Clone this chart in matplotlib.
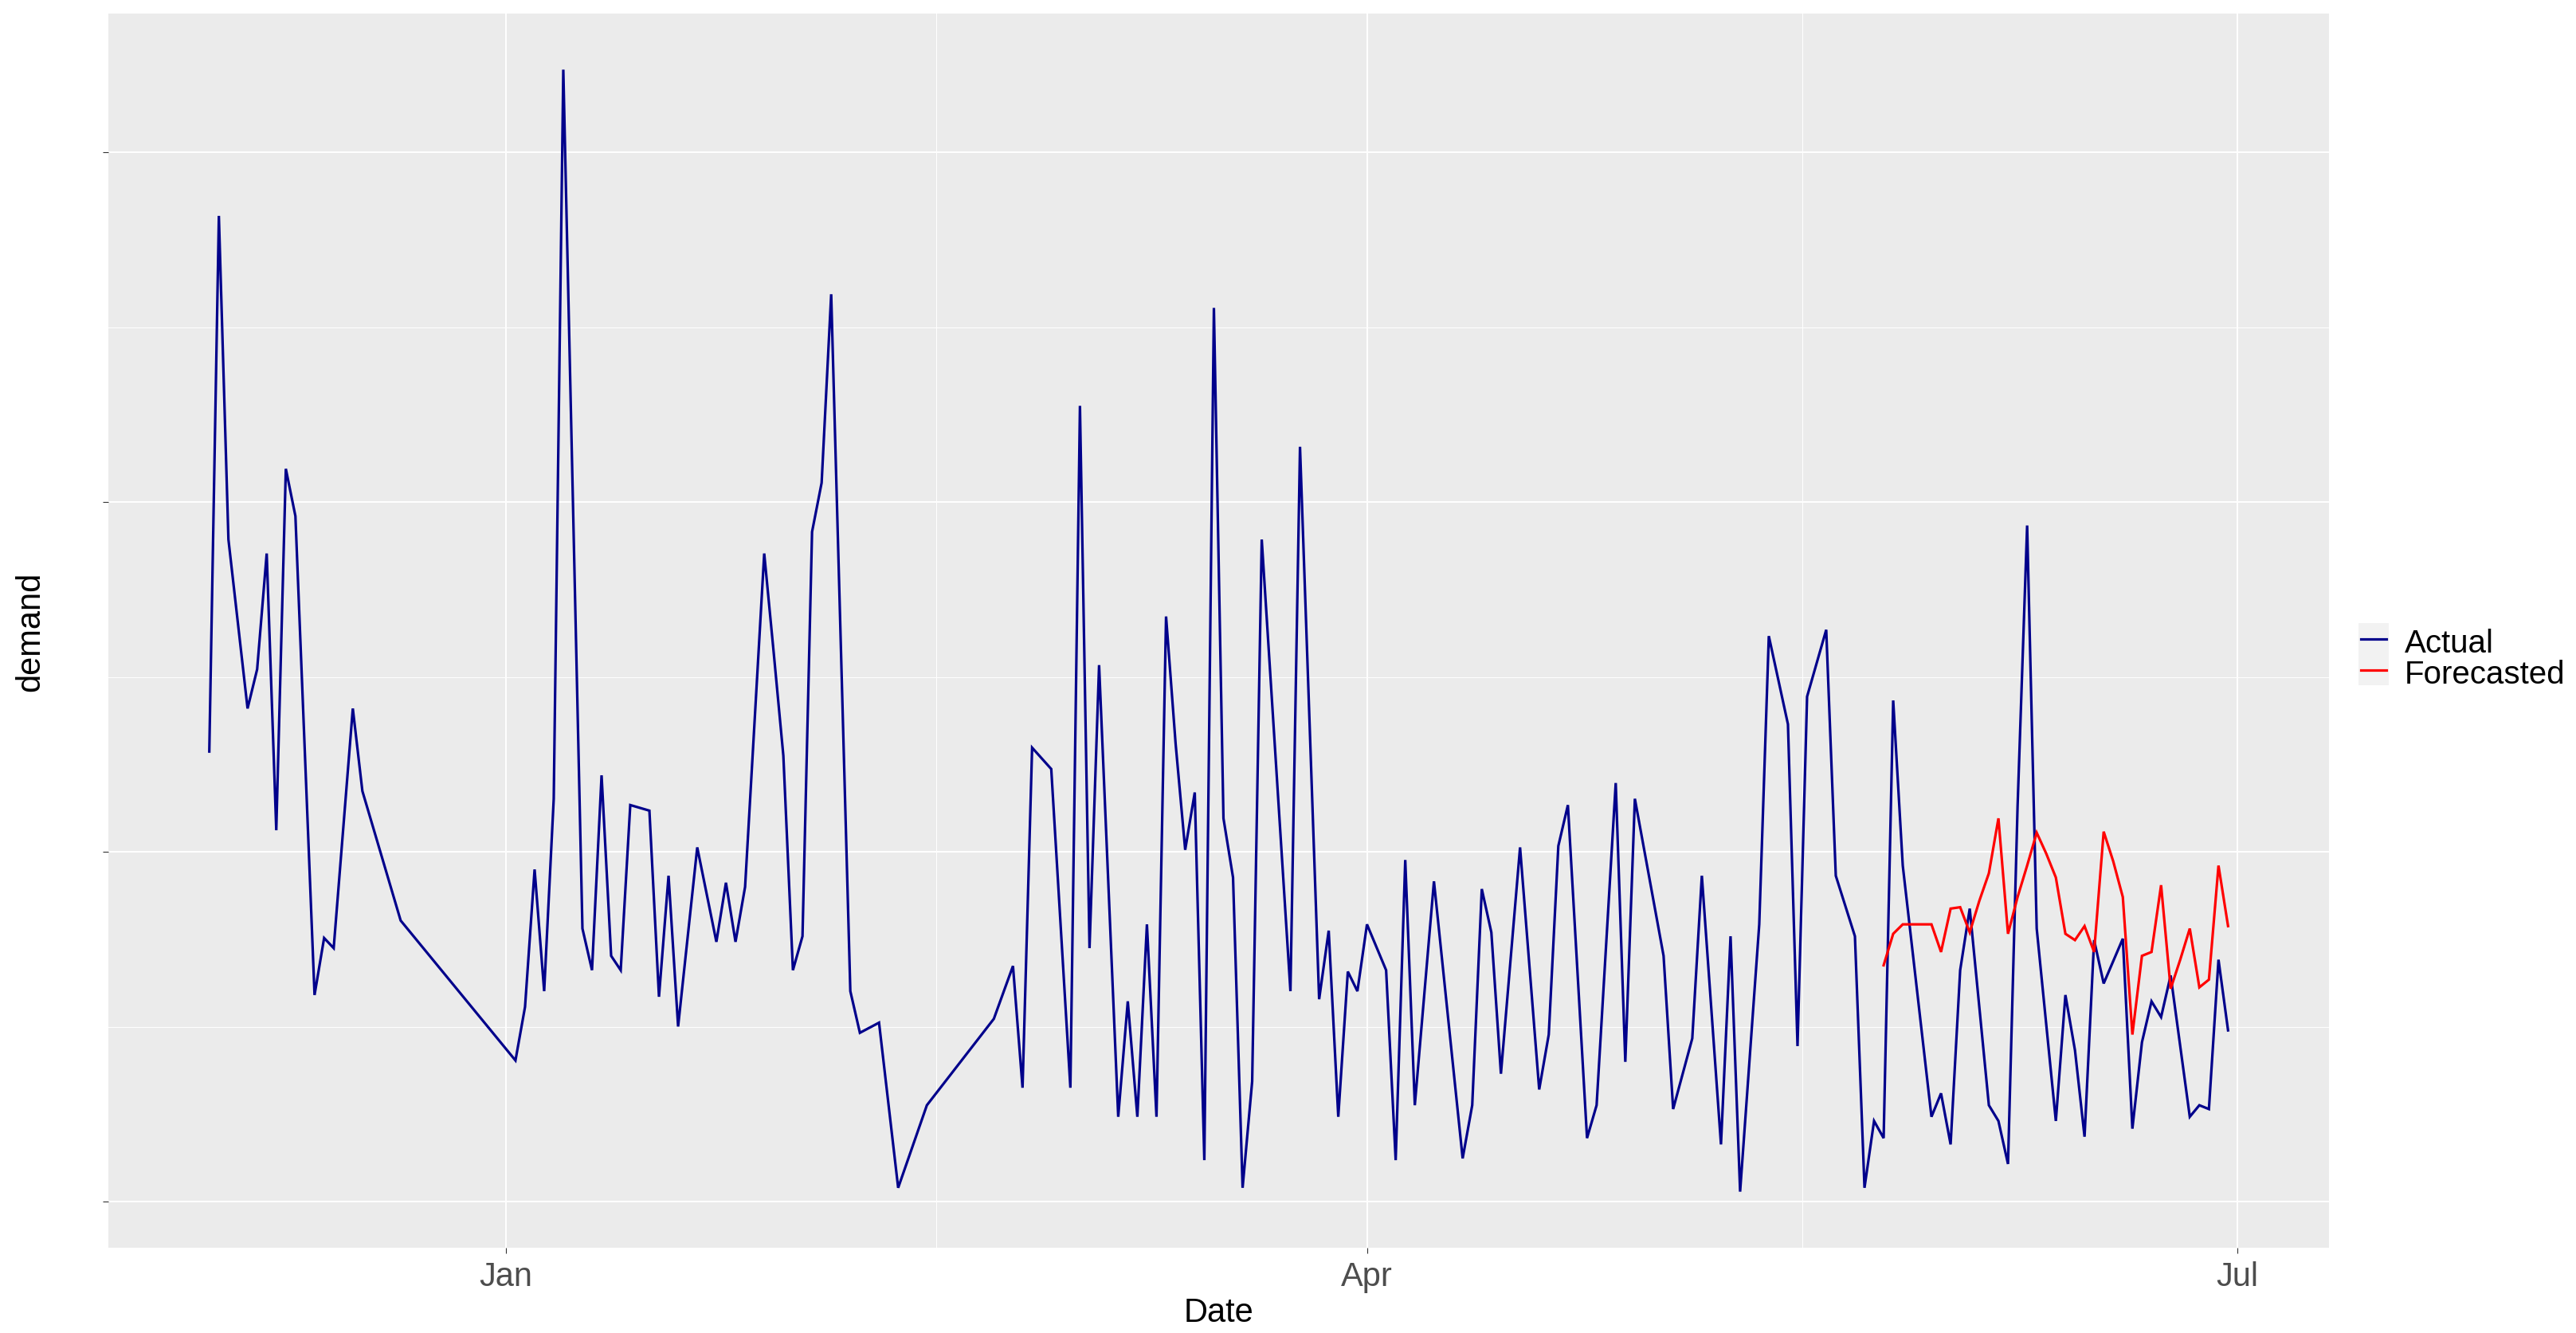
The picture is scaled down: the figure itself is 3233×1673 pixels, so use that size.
import numpy as np
import pandas as pd
import matplotlib
matplotlib.use("Agg")
import matplotlib.pyplot as plt
import matplotlib.dates as mdates
from matplotlib.lines import Line2D
from matplotlib.patches import Rectangle

# ---------------- data ----------------
base_date = "2023-01-01"   # day offsets are counted from this date

actual_day = [-31, -30, -29, -27, -26, -25, -24, -23, -22, -20, -19, -18, -16, -15, -11,
              1, 2, 3, 4, 5, 6, 8, 9, 10, 11, 12, 13, 15, 16, 17, 18, 20, 22, 23, 24, 25,
              26, 27, 28, 29, 30, 31, 32, 33, 34, 36, 37, 39, 41, 44, 51, 53, 54, 55, 57,
              59, 60, 61, 62, 63, 64, 65, 66, 67, 68, 69, 70, 71, 72, 73, 74, 75, 76, 77,
              78, 79, 82, 83, 85, 86, 87, 88, 89, 90, 92, 93, 94, 95, 97, 100, 101, 102,
              103, 104, 106, 108, 109, 110, 111, 113, 114, 116, 117, 118, 121, 122, 124,
              125, 127, 128, 129, 131, 132, 134, 135, 136, 138, 139, 141, 142, 143, 144,
              145, 146, 149, 150, 151, 152, 153, 155, 156, 157, 158, 159, 160, 162, 163,
              164, 165, 166, 167, 169, 170, 171, 172, 173, 174, 176, 177, 178, 179, 180]
actual_demand = [128.7, 281.8, 189.3, 141.0, 152.2, 185.3, 106.2, 209.5, 196.0, 59.1, 75.4,
                 72.5, 141.0, 117.4, 80.4,
                 40.4, 55.7, 95.0, 60.2, 115.2, 323.6, 78.1, 66.2, 121.9, 70.3, 66.2, 113.4,
                 111.8, 58.6, 93.2, 50.1, 101.3, 74.3, 91.2, 74.3, 90.0,
                 137.6, 185.3, 156.7, 127.5, 66.2, 75.9, 191.5, 205.5, 259.4, 60.2, 48.3,
                 51.2, 4.0, 27.6, 52.3, 67.4, 32.6, 129.8, 123.7,
                 32.6, 227.5, 72.5, 153.4, 88.7, 24.3, 57.3, 24.3, 79.3, 24.3, 167.3, 130.9,
                 100.6, 117.0, 11.9, 255.5, 109.6, 92.7, 4.0,
                 34.4, 189.3, 60.2, 215.8, 57.9, 77.5, 24.3, 65.8, 60.2, 79.3, 66.2, 11.9,
                 97.7, 27.6, 91.6, 12.4, 27.6, 89.4,
                 77.0, 36.6, 101.3, 32.1, 47.8, 101.7, 113.4, 18.2, 27.6, 119.7, 40.0, 115.2,
                 70.3, 26.5, 46.7,
                 93.2, 16.4, 75.9, 2.9, 79.3, 161.7, 136.5, 44.5, 144.4, 163.5, 93.2, 75.9,
                 4.0, 23.1, 18.2,
                 143.3, 96.1, 24.3, 31.0, 16.4, 66.2, 83.8, 27.6, 23.1, 10.8, 113.0, 193.3,
                 78.1, 23.1, 59.1,
                 43.3, 18.6, 74.8, 62.4, 75.2, 20.9, 45.6, 57.3, 52.8, 64.7, 24.3, 27.6,
                 26.5, 69.2, 49.0]

forecast_day = [144, 145, 146, 147, 148, 149, 150, 151, 152, 153, 154, 155, 156, 157, 158,
                159, 160, 161, 162, 163, 164, 165, 166, 167, 168, 169, 170, 171, 172, 173,
                174, 175, 176, 177, 178, 179, 180]
forecast_demand = [67.6, 76.6, 79.3, 79.3, 79.3, 79.3, 71.4, 83.8, 84.2, 77.0, 86.0, 93.9,
                   109.6, 76.6, 87.1, 96.1, 105.5, 99.5, 92.7, 76.6, 74.8, 78.8, 71.4,
                   105.8, 97.3, 87.1, 47.8, 70.3, 71.4, 90.5, 60.9, 69.2, 78.1, 61.3, 63.5,
                   96.1, 78.8]

x_tick_dates = ["2023-01-01 00:00", "2023-04-01 00:00", "2023-07-01 00:00"]
x_tick_labels = ["Jan", "Apr", "Jul"]
x_minor_dates = ["2023-02-15 00:00", "2023-05-16 12:00"]
y_major = [0, 100, 200, 300]
y_minor = [50, 150, 250]
series_labels = ["Actual", "Forecasted"]
x_title = "Date"
y_title = "demand"

# ---------------- style ----------------
W, H, DPI = 3233, 1674, 200
FONT = ["Liberation Sans", "DejaVu Sans"]
plt.rcParams["font.family"] = FONT
COL_ACT = "#00008B"
COL_FC = "#FF0000"
PANEL = "#EBEBEB"

def fx(px):
    return px / W

def fy(py):
    return 1 - py / H

def to_num(strings):
    return mdates.date2num(pd.to_datetime(strings, format="%Y-%m-%d %H:%M"))

base = pd.Timestamp(base_date)
act_dates = base + pd.to_timedelta(actual_day, unit="D")
fc_dates = base + pd.to_timedelta(forecast_day, unit="D")

fig = plt.figure(figsize=(W / DPI, H / DPI), dpi=DPI, facecolor="white")
left, right, top, bottom = 136, 2923, 18, 1567
ax = fig.add_axes([fx(left), fy(bottom), fx(right - left), (bottom - top) / H])
ax.set_facecolor(PANEL)
for s in ax.spines.values():
    s.set_visible(False)

ax.plot(act_dates, actual_demand, color=COL_ACT, lw=1.15, solid_joinstyle="miter", zorder=3)
ax.plot(fc_dates, forecast_demand, color=COL_FC, lw=1.15, solid_joinstyle="miter", zorder=4)

# ggplot-like 5% expansion
xn = mdates.date2num(act_dates.append(fc_dates))
xr = xn.max() - xn.min()
ax.set_xlim(xn.min() - 0.05 * xr, xn.max() + 0.05 * xr)
allv = np.array(actual_demand + forecast_demand)
yr = allv.max() - allv.min()
ax.set_ylim(allv.min() - 0.05 * yr, allv.max() + 0.05 * yr)

ax.set_xticks(to_num(x_tick_dates))
ax.set_xticklabels(x_tick_labels)
ax.set_xticks(to_num(x_minor_dates), minor=True)
ax.set_yticks(y_major)
ax.set_yticklabels([""] * len(y_major))
ax.set_yticks(y_minor, minor=True)

ax.grid(which="major", color="white", lw=0.7, zorder=1)
ax.grid(which="minor", color="white", lw=0.35, zorder=1)
ax.set_axisbelow(True)

ax.tick_params(axis="both", which="major", length=2.6, width=0.4, color="#333333",
               labelsize=15, labelcolor="#4D4D4D", pad=3)
ax.tick_params(axis="both", which="minor", length=0)

ax.set_xlabel(x_title, fontsize=15, color="black", labelpad=1.8)
fig.text(fx(49.5), fy(792.5), y_title, rotation=90, rotation_mode="anchor",
         ha="center", va="baseline", fontsize=15, color="black")

# legend (manual, ggplot style)
fig.add_artist(Rectangle((fx(2960), fy(861)), fx(38), 78 / H, transform=fig.transFigure,
                         facecolor="#F2F2F2", edgecolor="none", zorder=1))
for lab, col, ly in zip(series_labels, [COL_ACT, COL_FC], [803, 842]):
    fig.add_artist(Line2D([fx(2963), fx(2995)], [fy(ly), fy(ly)], transform=fig.transFigure,
                          color=col, lw=1.15, zorder=2))
    fig.text(fx(3018), fy(ly + 16), lab, fontsize=14.5, color="black",
             ha="left", va="baseline")

fig.savefig("out.png", dpi=DPI, facecolor="white")
